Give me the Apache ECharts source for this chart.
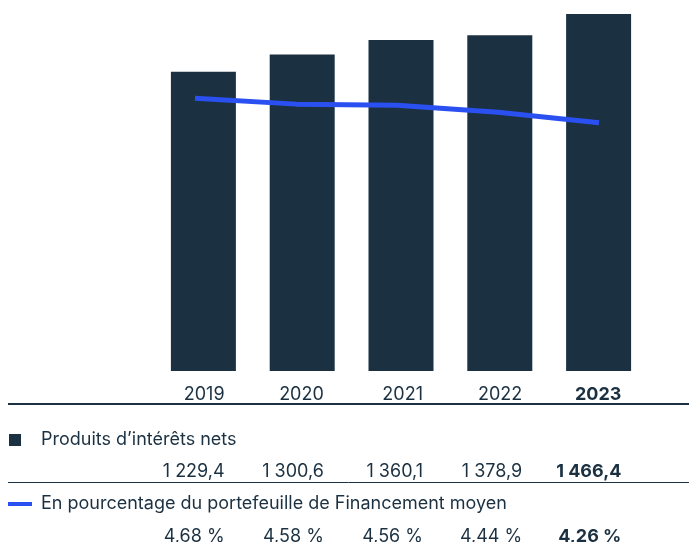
<!DOCTYPE html>
<html lang="fr">
<head>
    <meta charset="UTF-8">
    <title>Produits d'intérêts nets</title>
    <script src="https://cdn.jsdelivr.net/npm/echarts@6.0.0/dist/echarts.min.js"></script>
    <style>
        html, body { margin: 0; padding: 0; background: #fff; }
        #chart { width: 689px; height: 542px; }
    </style>
</head>
<body>
    <div id="chart"></div>
    <script>
        // données
        const years = ["2019", "2020", "2021", "2022", "2023"];
        const netInterest = [1229.4, 1300.6, 1360.1, 1378.9, 1466.4];
        const pctPortfolio = [4.68, 4.58, 4.56, 4.44, 4.26];
        const barName = "Produits d\u2019intérêts nets";
        const lineName = "En pourcentage du portefeuille de Financement moyen";

        const DARK = "#1b3142";
        const BLUE = "#2b50f2";
        const FONT = "Inter";
        const FS = 18;

        // 1229.4 -> "1 229,4" ; 4.68 -> "4,68 %"
        function fmtAmount(v) {
            const parts = v.toFixed(1).split(".");
            const ent = parts[0].replace(/\B(?=(\d{3})+(?!\d))/g, " ");
            return ent + "," + parts[1];
        }
        function fmtPct(v) {
            return v.toFixed(2).replace(".", ",") + " %";
        }

        const chart = echarts.init(document.getElementById("chart"), null, { renderer: "canvas" });

        function tableAxis(offset, fmt) {
            return {
                type: "category",
                gridIndex: 2,
                position: "bottom",
                offset: offset,
                data: years,
                axisLine: { show: false },
                axisTick: { show: false },
                axisLabel: {
                    interval: 0,
                    margin: 7,
                    align: "right",
                    fontFamily: FONT,
                    fontSize: FS,
                    lineHeight: 16,
                    color: DARK,
                    formatter: (v, i) => i === years.length - 1 ? "{b|" + fmt(i) + "}" : fmt(i),
                    rich: {
                        b: { fontFamily: FONT, fontSize: FS, fontWeight: "bold", color: DARK, lineHeight: 16 }
                    }
                }
            };
        }

        const option = {
            animation: false,
            backgroundColor: "#fff",
            grid: [
                { left: 154, right: 41, top: 0, bottom: 171 },   // barres
                { left: 195, right: 90, top: 0, bottom: 171 },   // ligne
                { left: 175, right: 18, top: 379, height: 1 }    // tableau
            ],
            xAxis: [
                { type: "category", gridIndex: 0, data: years, show: false },
                { type: "category", gridIndex: 1, data: years, boundaryGap: false, show: false },
                tableAxis(0, i => years[i]),
                tableAxis(77, i => fmtAmount(netInterest[i])),
                tableAxis(142, i => fmtPct(pctPortfolio[i]))
            ],
            yAxis: [
                { type: "value", gridIndex: 0, min: 0, max: 1524, show: false },
                { type: "value", gridIndex: 1, min: 0, max: 6.367, show: false },
                { type: "value", gridIndex: 2, show: false }
            ],
            legend: [
                {
                    data: [barName],
                    left: 4, top: 425,
                    icon: "rect", itemWidth: 12, itemHeight: 12,
                    textStyle: { fontFamily: FONT, fontSize: FS, color: DARK, lineHeight: 20, padding: [0, 0, 0, 15] },
                    selectedMode: false
                },
                {
                    data: [lineName],
                    left: 3, top: 489,
                    icon: "rect", itemWidth: 24, itemHeight: 4,
                    textStyle: { fontFamily: FONT, fontSize: FS, color: DARK, lineHeight: 20, padding: [0, 0, 0, 4] },
                    selectedMode: false
                }
            ],
            graphic: [
                { type: "line", shape: { x1: 8, y1: 404, x2: 689, y2: 404 }, style: { stroke: DARK, lineWidth: 2 } },
                { type: "line", shape: { x1: 8, y1: 482.5, x2: 689, y2: 482.5 }, style: { stroke: DARK, lineWidth: 1 } }
            ],
            series: [
                {
                    name: barName,
                    type: "bar",
                    xAxisIndex: 0,
                    yAxisIndex: 0,
                    data: netInterest,
                    barWidth: 65,
                    itemStyle: { color: DARK }
                },
                {
                    name: lineName,
                    type: "line",
                    xAxisIndex: 1,
                    yAxisIndex: 1,
                    data: pctPortfolio,
                    showSymbol: false,
                    symbol: "none",
                    lineStyle: { color: BLUE, width: 5, cap: "butt" },
                    itemStyle: { color: BLUE },
                    z: 5
                }
            ]
        };

        chart.setOption(option);
    </script>
</body>
</html>
